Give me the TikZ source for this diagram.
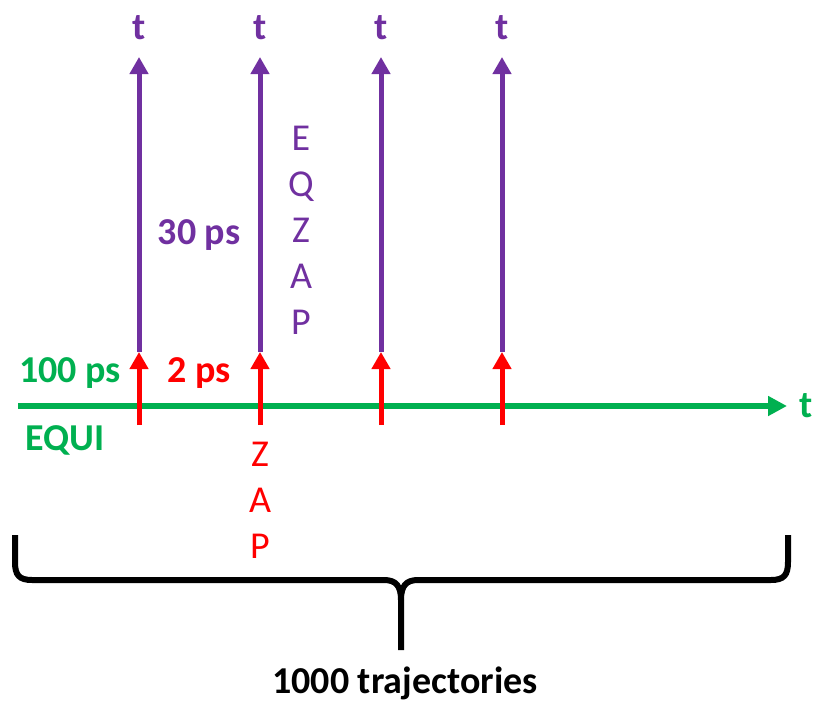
\documentclass[tikz,border=0pt]{standalone}
\usepackage{fontspec}
\setmainfont{Carlito}
\usetikzlibrary{arrows.meta}
\definecolor{mygreen}{RGB}{0,176,80}
\definecolor{myred}{RGB}{255,0,0}
\definecolor{mypurple}{RGB}{112,48,160}
\tikzset{
  bigbold/.style={font=\fontsize{38}{45}\selectfont\bfseries, inner sep=0pt},
  letters/.style={font=\fontsize{38}{46}\selectfont, inner sep=0pt, align=center},
  greenarrow/.style={draw=mygreen, line width=5.5pt, -{Triangle[length=19pt,width=19pt]}},
  redarrow/.style={draw=myred, line width=5pt, -{Triangle[length=17pt,width=18pt]}},
  purplearrow/.style={draw=mypurple, line width=5pt, -{Triangle[length=17pt,width=18pt]}},
  bracestyle/.style={draw=black, line width=6pt, line cap=butt},
}
\begin{document}
\begin{tikzpicture}[x=1pt,y=-1pt]
\useasboundingbox (0,0) rectangle (814,704);
% axis
\coordinate (gstart) at (18,406);
\coordinate (gend) at (787,406);
\draw[greenarrow] (gstart) -- (gend);
\node[bigbold, text=mygreen] (tg) at (806,406) {t};
% vertical arrows
\foreach \i/\x in {1/139,2/260,3/381,4/502}{
  \coordinate (rb\i) at (\x,425);
  \coordinate (rt\i) at (\x,352);
  \coordinate (pt\i) at (\x,57);
  \draw[purplearrow] (rt\i) -- (pt\i);
  \draw[redarrow] (rb\i) -- (rt\i);
  \node[bigbold, text=mypurple] (tl\i) at (\x,28) {t};
}
% labels
\node[bigbold, text=mygreen, anchor=base] (l100) at (70,382) {100 ps};
\node[bigbold, text=mygreen, anchor=base] (lequi) at (65,450) {EQUI};
\node[bigbold, text=myred, anchor=base] (l2) at (199,382) {2 ps};
\node[bigbold, text=mypurple, anchor=base] (l30) at (199,244) {30 ps};
\node[letters, text=mypurple, anchor=north] (eqzap) at (301,126) {E\\Q\\Z\\A\\P};
\node[letters, text=myred, anchor=north] (zap) at (260,442) {Z\\A\\P};
% brace
\draw[bracestyle] (15,535) -- (15,562) .. controls (15,575) and (19,580) .. (32,580) -- (384,580) .. controls (396,580) and (401,586) .. (401,600) -- (401,650);
\draw[bracestyle] (788,535) -- (788,562) .. controls (788,575) and (784,580) .. (771,580) -- (418,580) .. controls (406,580) and (401,586) .. (401,600);
\node[bigbold, text=black, anchor=base] (traj) at (405,693) {1000 trajectories};
\end{tikzpicture}
\end{document}
